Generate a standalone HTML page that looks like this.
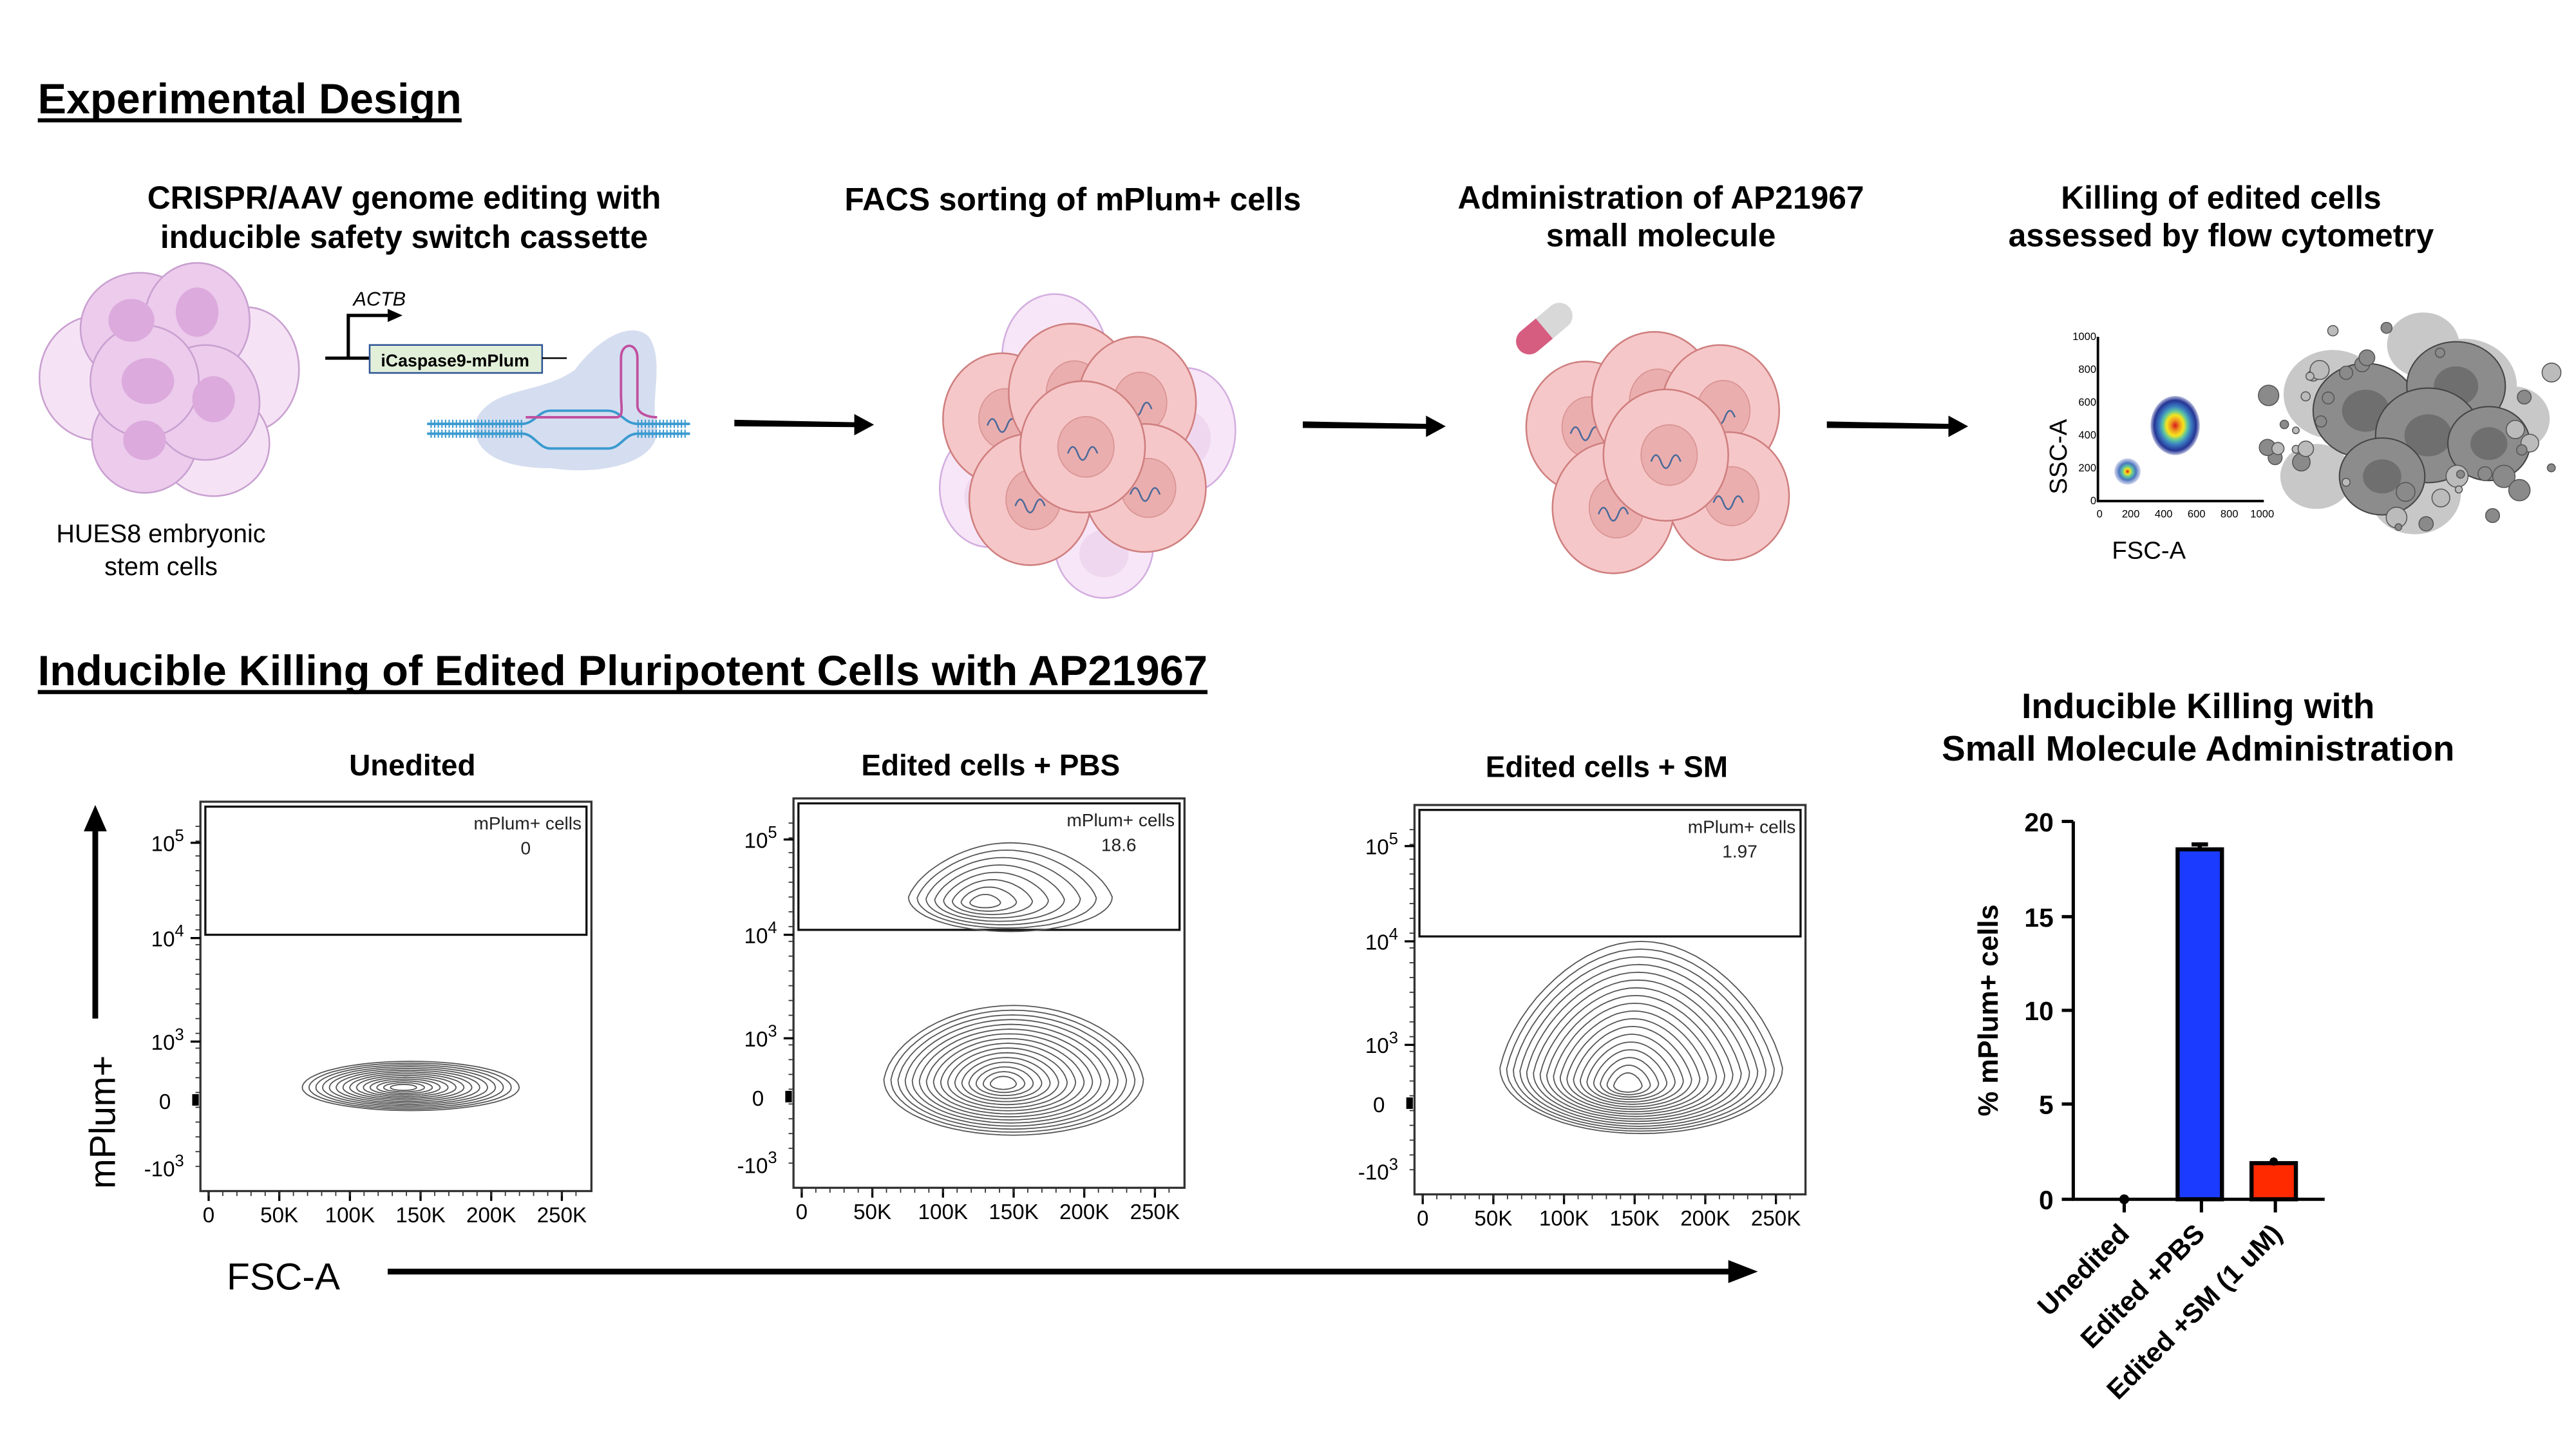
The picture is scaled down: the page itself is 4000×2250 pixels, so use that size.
<!DOCTYPE html>
<html><head><meta charset="utf-8">
<style>
html,body{margin:0;padding:0;background:#fff;}
svg{display:block;}
text{font-family:"Liberation Sans",Arial,sans-serif;}
</style></head>
<body>
<svg id="s" width="4000" height="2250" viewBox="0 0 1568 882" xmlns="http://www.w3.org/2000/svg">
<defs>
<radialGradient id="fl" cx="50%" cy="50%" r="50%">
<stop offset="0" stop-color="#d7191c"/><stop offset="0.2" stop-color="#f0a020"/><stop offset="0.35" stop-color="#f5e51f"/><stop offset="0.5" stop-color="#5ec6a0"/><stop offset="0.65" stop-color="#3a7cc2"/><stop offset="0.85" stop-color="#253494"/><stop offset="1" stop-color="#253494" stop-opacity="0.3"/>
</radialGradient>
<radialGradient id="fl2" cx="50%" cy="50%" r="50%">
<stop offset="0" stop-color="#d7191c"/><stop offset="0.2" stop-color="#f5e51f"/><stop offset="0.4" stop-color="#5ec6a0"/><stop offset="0.65" stop-color="#4a74c0"/><stop offset="1" stop-color="#8a9ad0" stop-opacity="0.4"/>
</radialGradient>
</defs>

<text x="23" y="69" font-size="26" font-weight="bold" textLength="258" lengthAdjust="spacingAndGlyphs">Experimental Design</text>
<rect x="23" y="72" width="258" height="2.5" fill="#000"/>

<g font-size="19.5" font-weight="bold" text-anchor="middle">
<text x="246" y="127">CRISPR/AAV genome editing with</text>
<text x="246" y="151">inducible safety switch cassette</text>
<text x="653" y="128">FACS sorting of mPlum+ cells</text>
<text x="1011" y="127">Administration of AP21967</text>
<text x="1011" y="150">small molecule</text>
<text x="1352" y="127">Killing of edited cells</text>
<text x="1352" y="150">assessed by flow cytometry</text>
</g>

<g stroke="#c9a0d0" stroke-width="1">
<ellipse cx="150" cy="225" rx="32" ry="38" fill="#f5e3f5"/>
<ellipse cx="60" cy="230" rx="36" ry="38" fill="#f5e3f5"/>
<ellipse cx="130" cy="270" rx="34" ry="32" fill="#f5e3f5"/>
<ellipse cx="85" cy="200" rx="36" ry="34" fill="#eccbec"/>
<ellipse cx="120" cy="195" rx="32" ry="35" fill="#eccbec"/>
<ellipse cx="88" cy="268" rx="32" ry="32" fill="#eccbec"/>
<ellipse cx="125" cy="245" rx="33" ry="35" fill="#eccbec"/>
<ellipse cx="88" cy="232" rx="33" ry="34" fill="#eccbec"/>
</g>
<g fill="#dcaadc">
<ellipse cx="80" cy="195" rx="14" ry="13"/><ellipse cx="120" cy="190" rx="13" ry="15"/>
<ellipse cx="90" cy="232" rx="16" ry="14"/><ellipse cx="130" cy="243" rx="13" ry="14"/><ellipse cx="88" cy="268" rx="13" ry="12"/>
</g>
<text x="98" y="330" font-size="15.5" text-anchor="middle">HUES8 embryonic</text>
<text x="98" y="350" font-size="15.5" text-anchor="middle">stem cells</text>

<text x="215" y="186" font-size="12" font-style="italic">ACTB</text>
<path d="M198 218 H225 M212 218 V192 H236" stroke="#000" stroke-width="2" fill="none"/>
<path d="M236 188 L245 192 L236 196Z" fill="#000"/>
<rect x="225" y="210" width="105" height="17" fill="#e2f0d9" stroke="#2f5597" stroke-width="1"/>
<text x="277" y="223" font-size="10.5" font-weight="bold" text-anchor="middle">iCaspase9-mPlum</text>
<path d="M330 218 H345" stroke="#000" stroke-width="1"/>

<path d="M290 255 C300 235 330 240 350 225 C365 205 385 195 395 205 C405 220 395 245 400 260 C402 280 370 290 335 285 C305 285 285 275 290 255Z" fill="#d5def0"/>
<g stroke="#3a9ad0" stroke-width="1.5" fill="none">
<path d="M260 258 H318 C325 258 328 250 335 250 H370 C378 250 380 258 388 258 H420"/>
<path d="M260 264 H318 C325 264 328 273 335 273 H370 C378 273 380 264 388 264 H420"/>
</g>
<path d="M262 258 H318 M388 258 H418 M262 264 H318 M388 264 H418" stroke="#3a9ad0" stroke-width="5" stroke-dasharray="0.8 1.4" fill="none"/>
<path d="M320 254 H375 C380 254 378 248 378 240 V218 C378 208 388 208 388 218 V247 C388 252 395 254 400 254" stroke="#c050a0" stroke-width="1.5" fill="none"/>

<g fill="#000">
<path d="M447 255.5 L520 257 L520 252 L532 258.5 L520 265 L520 260 L447 259.5Z"/>
<path d="M793 256.5 L868 258 L868 253 L880 259.5 L868 266 L868 261 L793 260.5Z"/>
<path d="M1112 256.5 L1186 258 L1186 253 L1198 259.5 L1186 266 L1186 261 L1112 260.5Z"/>
</g>

<g id="clusters"></g>

<g transform="translate(940,200) rotate(-40)">
<rect x="-20" y="-8" width="40" height="16" rx="8" fill="#d8d8d8"/>
<path d="M-12 -8 H0 V8 H-12 A8 8 0 0 1 -12 -8Z" fill="#d65c80"/>
</g>

<text x="1253" y="278" font-size="15" text-anchor="middle" transform="rotate(-90 1253 278)" dy="5">SSC-A</text>
<path d="M1277 205 V305 H1378" stroke="#000" stroke-width="1.5" fill="none"/>
<g font-size="6.5" text-anchor="end">
<text x="1276" y="207">1000</text><text x="1276" y="227">800</text><text x="1276" y="247">600</text><text x="1276" y="267">400</text><text x="1276" y="287">200</text><text x="1276" y="307">0</text>
</g>
<g font-size="6.5" text-anchor="middle">
<text x="1278" y="315">0</text><text x="1297" y="315">200</text><text x="1317" y="315">400</text><text x="1337" y="315">600</text><text x="1357" y="315">800</text><text x="1377" y="315">1000</text>
</g>
<ellipse cx="1324" cy="259" rx="15" ry="18" fill="url(#fl)"/>
<ellipse cx="1295" cy="287" rx="8" ry="8" fill="url(#fl2)"/>
<text x="1308" y="340" font-size="15" text-anchor="middle">FSC-A</text>

<g id="dead"></g>

<text x="23" y="417" font-size="26" font-weight="bold" textLength="712" lengthAdjust="spacingAndGlyphs">Inducible Killing of Edited Pluripotent Cells with AP21967</text>
<rect x="23" y="420" width="712" height="2.5" fill="#000"/>

<g font-size="18" font-weight="bold" text-anchor="middle">
<text x="251" y="472">Unedited</text>
<text x="603" y="472">Edited cells + PBS</text>
<text x="978" y="473">Edited cells + SM</text>
</g>

<g id="plots"></g>

<path d="M58 620 V505" stroke="#000" stroke-width="3.5"/>
<path d="M51 506 L58 490 L65 506Z" fill="#000"/>
<text x="70" y="683" font-size="22" text-anchor="middle" transform="rotate(-90 70 683)">mPlum+</text>
<text x="138" y="785" font-size="23">FSC-A</text>
<path d="M236 774 H1055" stroke="#000" stroke-width="3.5"/>
<path d="M1052 767 L1070 774 L1052 781Z" fill="#000"/>

<g font-size="21.5" font-weight="bold" text-anchor="middle">
<text x="1338" y="437">Inducible Killing with</text>
<text x="1338" y="463">Small Molecule Administration</text>
</g>
<path d="M1262 500 V730 H1415" stroke="#000" stroke-width="2" fill="none"/>
<g stroke="#000" stroke-width="2">
<path d="M1255 500 H1262 M1255 558 H1262 M1255 615 H1262 M1255 672 H1262 M1255 730 H1262"/>
<path d="M1293 730 V738 M1340 730 V738 M1385 730 V738"/>
</g>
<g font-size="16" font-weight="bold" text-anchor="end">
<text x="1250" y="506">20</text><text x="1250" y="564">15</text><text x="1250" y="621">10</text><text x="1250" y="678">5</text><text x="1250" y="736">0</text>
</g>
<text x="1216" y="615" font-size="17" font-weight="bold" text-anchor="middle" transform="rotate(-90 1216 615)">% mPlum+ cells</text>
<rect x="1325.5" y="517" width="27" height="213" fill="#1b3cff" stroke="#000" stroke-width="2.5"/>
<path d="M1339 517 V514 M1334 514 H1344" stroke="#000" stroke-width="2.5"/>
<rect x="1370.5" y="708" width="27" height="22" fill="#ff2a00" stroke="#000" stroke-width="2.5"/>
<circle cx="1384" cy="707" r="2.5" fill="#000"/>
<circle cx="1293" cy="730" r="3" fill="#000"/>
<g font-size="16.5" font-weight="bold" text-anchor="end">
<text x="1297" y="752" transform="rotate(-45 1297 752)">Unedited</text>
<text x="1343" y="752" transform="rotate(-45 1343 752)">Edited +PBS</text>
<text x="1390" y="752" transform="rotate(-45 1390 752)">Edited +SM (1 uM)</text>
</g>
</svg>
<script>
var NS="http://www.w3.org/2000/svg";
function el(p,t,a,txt){var e=document.createElementNS(NS,t);for(var k in a)e.setAttribute(k,a[k]);if(txt!==undefined)e.textContent=txt;p.appendChild(e);return e;}
var cl=document.getElementById('clusters');
function cluster(cx,cy,bg){
 if(bg){[[-15,-50,32,38],[65,-5,30,38],[-55,30,30,36],[15,65,30,32]].forEach(function(b){
  el(cl,'ellipse',{cx:cx+b[0],cy:cy+b[1],rx:b[2],ry:b[3],fill:'#f7e6f7',stroke:'#d3aee0','stroke-width':1});
  el(cl,'ellipse',{cx:cx+b[0],cy:cy+b[1]+5,rx:b[2]*0.5,ry:b[3]*0.45,fill:'#efd8ef'});});}
 [[-47,-12,36,40],[-5,-28,38,42],[35,-22,36,40],[-30,37,37,40],[40,30,37,39],[2,5,38,40]].forEach(function(c){
  var x=cx+c[0],y=cy+c[1];
  el(cl,'ellipse',{cx:x,cy:y,rx:c[2],ry:c[3],fill:'#f6c7c8',stroke:'#cf7f7f','stroke-width':1});
  el(cl,'ellipse',{cx:x+2,cy:y,rx:c[2]*0.45,ry:c[3]*0.46,fill:'#ebaeae',stroke:'#d99595','stroke-width':0.7});
  el(cl,'path',{d:'M'+(x-9)+' '+(y+4)+' q3 -8 6 0 t6 0 t6 0',stroke:'#4a6a9a','stroke-width':1,fill:'none'});
 });
}
cluster(657,267,true);
cluster(1012,272,false);
var dd=document.getElementById('dead');
var seed=7;function rnd(){seed=(seed*9301+49297)%233280;return seed/233280;}
[[1420,240,30,'#c8c8c8'],[1500,235,32,'#c8c8c8'],[1470,300,28,'#c8c8c8'],[1530,255,22,'#c8c8c8'],[1410,290,22,'#c8c8c8'],[1475,210,22,'#c8c8c8']].forEach(function(b){
 el(dd,'ellipse',{cx:b[0],cy:b[1],rx:b[2],ry:b[2]*0.9,fill:b[3]});});
[[1440,250,32],[1495,235,30],[1478,265,32],[1450,290,26],[1515,270,25]].forEach(function(b){
 el(dd,'ellipse',{cx:b[0],cy:b[1],rx:b[2],ry:b[2]*0.9,fill:'#8c8c8c',stroke:'#444','stroke-width':0.8});
 el(dd,'ellipse',{cx:b[0],cy:b[1],rx:b[2]*0.45,ry:b[2]*0.4,fill:'#6f6f6f'});});
for(var i=0;i<40;i++){var a=rnd()*6.28,r=50+rnd()*40;el(dd,'circle',{cx:1470+Math.cos(a)*r*1.1,cy:255+Math.sin(a)*r*0.75,r:2+rnd()*5,fill:rnd()<0.5?'#8a8a8a':'#bbbbbb',stroke:'#555','stroke-width':0.6});}
var pg=document.getElementById('plots');
function sup(x,y,base,exp,neg){var t=el(pg,'text',{x:x,y:y,'font-size':13,'text-anchor':'end'});
 t.textContent=(neg?'-':'')+base;el(t,'tspan',{dy:-6,'font-size':10},exp);}
function plot(x0,y0,gy,val){
 var x1=x0+238,y1=y0+237;
 el(pg,'rect',{x:x0,y:y0,width:238,height:237,fill:'none',stroke:'#333','stroke-width':1.3});
 el(pg,'rect',{x:x0+3,y:y0+3,width:232,height:gy-y0-3,fill:'none',stroke:'#111','stroke-width':1.3});
 el(pg,'text',{x:x1-6,y:y0+17,'font-size':11,'text-anchor':'end',fill:'#222'},'mPlum+ cells');
 el(pg,'text',{x:x1-40,y:y0+32,'font-size':11,'text-anchor':'middle',fill:'#222'},val);
 var yl=[[y0+25,'10','5'],[y0+83,'10','4'],[y0+146,'10','3']];
 yl.forEach(function(t){sup(x0-10,t[0]+5,t[1],t[2]);el(pg,'path',{d:'M'+(x0-6)+' '+t[0]+'H'+x0,stroke:'#000','stroke-width':1.3});});
 el(pg,'text',{x:x0-18,y:y0+187,'font-size':13,'text-anchor':'end'},'0');
 el(pg,'rect',{x:x0-5,y:y0+178,width:4,height:7,fill:'#000'});
 sup(x0-10,y0+228,'10','3',true);
 for(var i=0;i<24;i++){var yy=y0+15+i*9;el(pg,'path',{d:'M'+(x0-3)+' '+yy+'H'+x0,stroke:'#333','stroke-width':0.7});}
 var xl=['0','50K','100K','150K','200K','250K'];
 for(var i=0;i<6;i++){var xx=x0+5+i*43;el(pg,'path',{d:'M'+xx+' '+y1+'v6',stroke:'#000','stroke-width':1.3});
  el(pg,'text',{x:xx,y:y1+19,'font-size':13,'text-anchor':'middle'},xl[i]);}
 for(var i=0;i<27;i++){var xx=x0+5+i*8.6;el(pg,'path',{d:'M'+xx+' '+y1+'v3',stroke:'#333','stroke-width':0.7});}
}
plot(122,488,569,'0');
plot(483,486,566,'18.6');
plot(861,490,570,'1.97');
function contour(cx,cy,fx,fy,rx,rt,rb,n,taper,kmin){
 for(var j=0;j<n;j++){var k=1-(1-kmin)*j/(n-1);var ccx=fx+(cx-fx)*k,ccy=fy+(cy-fy)*k;var d='';
  for(var a=0;a<=64;a++){var t=a/64*6.2832,s=Math.sin(t),c=Math.cos(t);
   var w=rx*k*(s<0?(1+taper*s):1);var x=ccx+w*c,y=ccy+(s<0?rt:rb)*k*s;d+=(a?'L':'M')+x.toFixed(1)+' '+y.toFixed(1);}
  el(pg,'path',{d:d+'Z',fill:'none',stroke:'#555','stroke-width':0.7});}
}
contour(250,662,245,662,66,16,14,14,0,0.12);
contour(617,657,610,660,79,45,34,16,0.1,0.1);
contour(615,546,597,550,62,33,21,8,0.2,0.15);
contour(999,650,990,662,86,77,40,18,0.2,0.1);
</script>
</body></html>
